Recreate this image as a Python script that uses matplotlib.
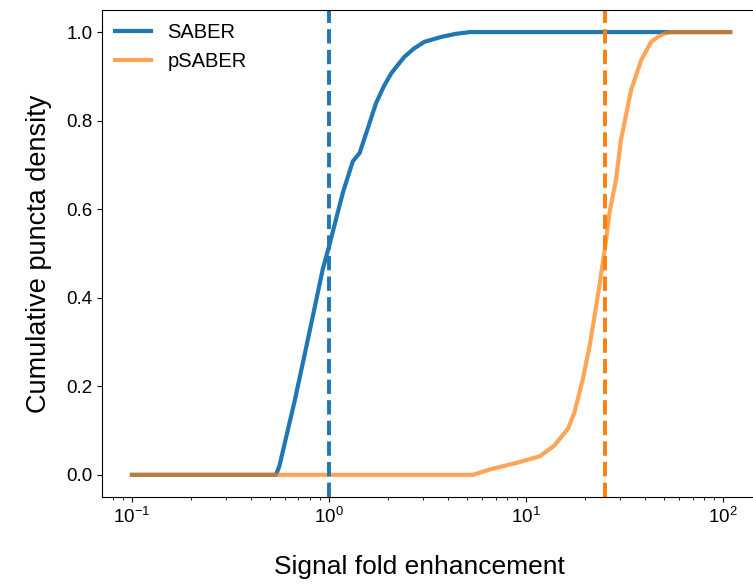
import matplotlib
matplotlib.use("Agg")
import matplotlib.pyplot as plt

plt.rcParams['font.family'] = ['Liberation Sans', 'DejaVu Sans']

# (fold enhancement, cumulative density)
saber_x = [0.1, 0.538, 0.56, 0.667, 0.75, 0.842, 0.929, 1.0, 1.175, 1.32,
           1.43, 1.58, 1.73, 1.9, 2.07, 2.41, 2.7, 3.05, 3.71, 4.4, 5.2, 108.6]
saber_y = [0.0, 0.0, 0.02, 0.164, 0.269, 0.374, 0.464, 0.516, 0.637, 0.708,
           0.727, 0.785, 0.839, 0.878, 0.907, 0.944, 0.963, 0.978, 0.989,
           0.996, 1.0, 1.0]

psaber_x = [0.1, 5.38, 6.53, 9.2, 11.75, 13.9, 16.3, 17.6, 19.4, 21.0, 22.4,
            23.8, 25.2, 26.5, 28.6, 30.3, 34.1, 38.4, 43.1, 47.0, 50.4, 54.4,
            108.6]
psaber_y = [0.0, 0.0, 0.012, 0.0285, 0.042, 0.066, 0.104, 0.141, 0.216,
            0.291, 0.366, 0.441, 0.516, 0.592, 0.667, 0.757, 0.869, 0.937,
            0.978, 0.99, 0.997, 1.0, 1.0]

saber_median = 1.0
psaber_median = 25.2

fig = plt.figure(figsize=(7.53, 5.84), dpi=100)
ax = fig.add_axes([0.1355, 0.149, 0.874, 0.834])

ax.plot(saber_x, saber_y, color='#1f77b4', lw=3, label='SABER')
ax.plot(psaber_x, psaber_y, color='#ff7f0e', lw=3, alpha=0.7, label='pSABER')
ax.axvline(saber_median, color='#1f77b4', ls='--', lw=2.8)
ax.axvline(psaber_median, color='#ff7f0e', ls='--', lw=2.8)

ax.set_xscale('log')
ax.set_xlabel('Signal fold enhancement', fontsize=19)
ax.xaxis.set_label_coords(0.482, -0.12)
ax.set_ylabel('Cumulative puncta density', fontsize=19.5, labelpad=10)
ax.tick_params(labelsize=13.5)
ax.legend(loc='upper left', frameon=False, fontsize=14.5,
          handlelength=1.8, handletextpad=0.8, borderaxespad=0.25)

fig.savefig('out.png', dpi=100)
